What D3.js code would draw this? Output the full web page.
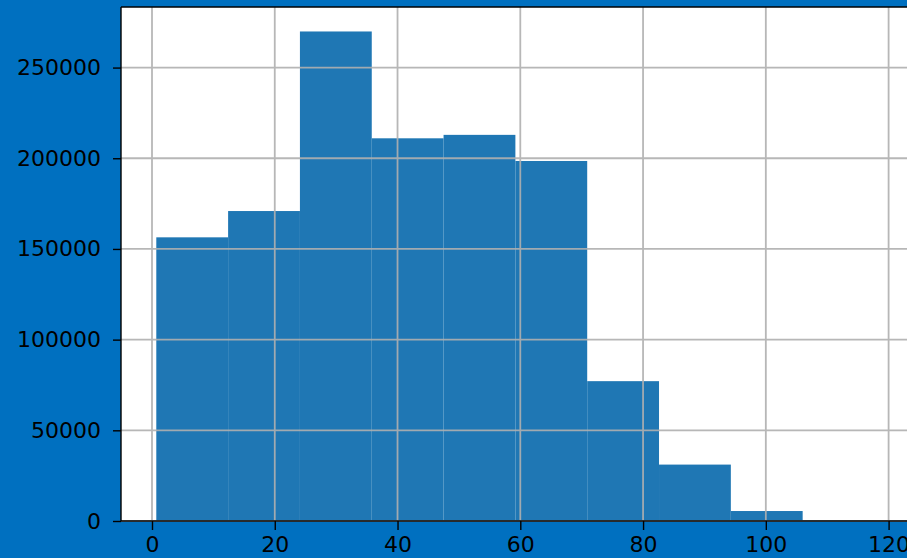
<!DOCTYPE html>
<html lang="en">
<head>
<meta charset="UTF-8">
<title>histogram</title>
<script src="https://d3js.org/d3.v7.min.js"></script>
<style>
  html, body { margin: 0; padding: 0; background: #0070c0; }
  svg { display: block; }
</style>
</head>
<body>
<script>
// bin edges (lower edge of each bin) and the counts
var binStart = [0.7, 12.4, 24.1, 35.8, 47.5, 59.2, 70.9, 82.6, 94.3, 106.0];
var binWidth = 11.7;
var counts = [156400, 170900, 269900, 211000, 212900, 198500, 77100, 31100, 5500, 150];
var xTicks = [0, 20, 40, 60, 80, 100, 120];
var yTicks = [0, 50000, 100000, 150000, 200000, 250000];

var W = 907, H = 558;
// plot box (note: "top" is reserved on window, so use pl/pt/pr/pb)
var pl = 121, pt = 7, pr = 911, pb = 521;

var x = d3.scaleLinear().domain([-5.05, 123.65]).range([pl, pr]);
var y = d3.scaleLinear().domain([0, d3.max(counts) * 1.05]).range([pb, pt]);

var svg = d3.select("body").append("svg")
    .attr("width", W)
    .attr("height", H)
    .style("font-family", "DejaVu Sans, sans-serif");

// white axes background
svg.append("rect")
    .attr("x", pl).attr("y", pt)
    .attr("width", pr - pl).attr("height", pb - pt)
    .attr("fill", "#fff");

var bins = binStart.map(function(s, i) { return {x0: s, x1: s + binWidth, n: counts[i]}; });

svg.append("g").selectAll("rect")
    .data(bins)
    .enter().append("rect")
    .attr("x", function(d) { return x(d.x0); })
    .attr("y", function(d) { return y(d.n); })
    .attr("width", function(d) { return x(d.x1) - x(d.x0); })
    .attr("height", function(d) { return y(0) - y(d.n); })
    .attr("fill", "#1f77b4");

// grid sits above the bars like matplotlib's default
var grid = svg.append("g").attr("stroke", "#b0b0b0").attr("stroke-width", 1.8).attr("opacity", 0.9);
grid.selectAll(".gx").data(xTicks).enter().append("line")
    .attr("x1", function(d) { return x(d); }).attr("x2", function(d) { return x(d); })
    .attr("y1", pt).attr("y2", pb);
grid.selectAll(".gy").data(yTicks).enter().append("line")
    .attr("x1", pl).attr("x2", pr)
    .attr("y1", function(d) { return y(d); }).attr("y2", function(d) { return y(d); });

// axes
var xAxis = d3.axisBottom(x).tickValues(xTicks).tickSize(9).tickPadding(6).tickFormat(d3.format("d"));
var yAxis = d3.axisLeft(y).tickValues(yTicks).tickSize(8).tickPadding(12).tickFormat(d3.format("d"));

var gx = svg.append("g").attr("transform", "translate(0," + pb + ")").call(xAxis);
var gy = svg.append("g").attr("transform", "translate(" + pl + ",0)").call(yAxis);

[gx, gy].forEach(function(g) {
  g.select(".domain").remove();
  g.selectAll(".tick line").attr("stroke", "#000").attr("stroke-width", 1.4);
  g.selectAll(".tick text").attr("fill", "#000").style("font-size", "22px").style("font-family", "DejaVu Sans, sans-serif");
});

// spines
var sp = svg.append("g").attr("stroke", "#000").attr("stroke-width", 1.4).attr("fill", "none");
sp.append("line").attr("x1", pl).attr("x2", pl).attr("y1", pt).attr("y2", pb);
sp.append("line").attr("x1", pl).attr("x2", pr).attr("y1", pb).attr("y2", pb);
sp.append("line").attr("x1", pl).attr("x2", pr).attr("y1", pt).attr("y2", pt);
</script>
</body>
</html>
